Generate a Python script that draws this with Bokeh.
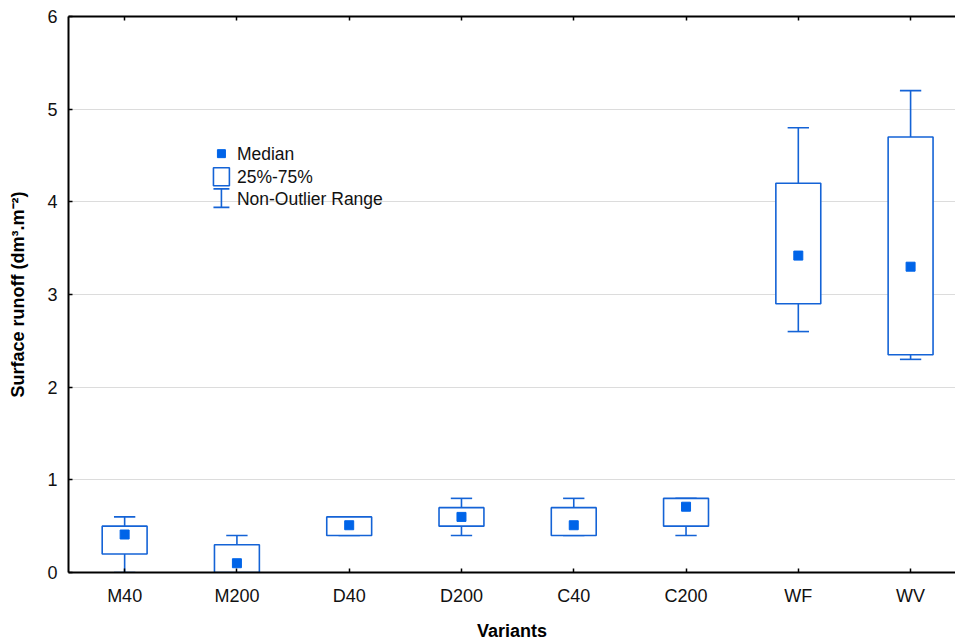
from bokeh.plotting import figure
from bokeh.models import (Range1d, FixedTicker, LinearAxis, CustomJSTickFormatter,
                          ColumnDataSource)
from bokeh.core.properties import value
from bokeh.embed import file_html
from bokeh.resources import INLINE

# ---- data ----
categories = ["M40", "M200", "D40", "D200", "C40", "C200", "WF", "WV"]
medians = [0.41, 0.10, 0.51, 0.60, 0.51, 0.71, 3.42, 3.30]
q25 = [0.20, 0.00, 0.40, 0.50, 0.40, 0.50, 2.90, 2.35]
q75 = [0.50, 0.30, 0.60, 0.70, 0.70, 0.80, 4.20, 4.70]
whisker_low = [0.00, 0.00, 0.40, 0.40, 0.40, 0.40, 2.60, 2.30]
whisker_high = [0.60, 0.40, 0.60, 0.80, 0.80, 0.80, 4.80, 5.20]
y_ticks = [0, 1, 2, 3, 4, 5, 6]
legend_labels = ["Median", "25%-75%", "Non-Outlier Range"]

# ---- style ----
FONT = "Liberation Sans"
LINE = "#1463d6"
MARK = "#0064e8"
BOX_W = 0.40
CAP_W = 0.19

xc = [i + 0.5 for i in range(len(categories))]
src = ColumnDataSource(dict(
    x=xc, med=medians, q1=q25, q3=q75, lo=whisker_low, hi=whisker_high,
    left=[v - BOX_W / 2 for v in xc], right=[v + BOX_W / 2 for v in xc],
    cl=[v - CAP_W / 2 for v in xc], cr=[v + CAP_W / 2 for v in xc],
))

p = figure(width=955, height=644, output_backend="svg", toolbar_location=None,
           x_range=Range1d(0, 7.9), y_range=Range1d(0, 6),
           min_border_left=68, min_border_right=0, min_border_top=16,
           min_border_bottom=72, x_axis_location="below")
p.outline_line_color = None
p.background_fill_color = "white"
p.border_fill_color = "white"

# grid
p.xgrid.visible = False
p.ygrid.ticker = FixedTicker(ticks=[1, 2, 3, 4, 5])
p.ygrid.grid_line_color = "#dcdcdc"
p.ygrid.grid_line_width = 1

# whiskers
p.segment(x0="x", y0="lo", x1="x", y1="q1", source=src, line_color=LINE, line_width=1.6)
p.segment(x0="x", y0="q3", x1="x", y1="hi", source=src, line_color=LINE, line_width=1.6)
p.segment(x0="cl", y0="lo", x1="cr", y1="lo", source=src, line_color=LINE, line_width=1.6)
p.segment(x0="cl", y0="hi", x1="cr", y1="hi", source=src, line_color=LINE, line_width=1.6)
# boxes
p.quad(left="left", right="right", bottom="q1", top="q3", source=src,
       fill_color="white", line_color=LINE, line_width=1.6)
# medians
p.scatter(x="x", y="med", source=src, marker="square", size=9,
          fill_color=MARK, line_color=MARK)

# ---- legend (drawn) ----
lx, ltx = 1.362, 1.50
ly = [4.52, 4.27, 4.03]
p.scatter(x=[lx], y=[ly[0]], marker="square", size=8, fill_color=MARK, line_color=MARK)
p.quad(left=[lx - 0.071], right=[lx + 0.071], bottom=[ly[1] - 0.097], top=[ly[1] + 0.097],
       fill_color="white", line_color=LINE, line_width=1.6)
p.segment(x0=[lx, lx - 0.071, lx - 0.071], y0=[3.94, 3.94, 4.14],
          x1=[lx, lx + 0.071, lx + 0.071], y1=[4.14, 3.94, 4.14],
          line_color=LINE, line_width=1.6)
p.text(x=[ltx] * 3, y=ly, text=legend_labels, text_font=value(FONT),
       text_font_size="17.5px", text_baseline="middle", text_color="#111111")

# ---- axes ----
fmt = CustomJSTickFormatter(args=dict(cats=categories),
                            code="return cats[Math.floor(tick)] || '';")
xa = p.xaxis[0]
xa.ticker = FixedTicker(ticks=xc)
xa.formatter = fmt
xa.axis_label = "Variants"
ya = p.yaxis[0]
ya.ticker = FixedTicker(ticks=y_ticks)
ya.axis_label = "Surface runoff (dm³.m⁻²)"

for ax in (xa, ya):
    ax.axis_line_color = "black"
    ax.axis_line_width = 2
    ax.major_tick_line_color = "black"
    ax.major_tick_line_width = 1.5
    ax.major_tick_in = 4
    ax.major_tick_out = 0
    ax.minor_tick_line_color = None
    ax.major_label_text_font = FONT
    ax.major_label_text_font_size = "18px"
    ax.major_label_text_color = "#111111"
    ax.axis_label_text_font = FONT
    ax.axis_label_text_font_size = "18px"
    ax.axis_label_text_font_style = "bold"
    ax.axis_label_text_color = "black"

xa.major_label_standoff = 13
xa.axis_label_standoff = 12
ya.major_label_standoff = 11
ya.axis_label_standoff = 16

# top frame line with inward ticks, no labels
top = LinearAxis(ticker=FixedTicker(ticks=xc),
                 formatter=CustomJSTickFormatter(code="return '';"))
top.axis_line_color = "black"
top.axis_line_width = 2
top.major_tick_line_color = "black"
top.major_tick_line_width = 1.5
top.major_tick_in = 4
top.major_tick_out = 0
top.minor_tick_line_color = None
top.major_label_standoff = 0
top.major_label_text_font_size = "1px"
p.add_layout(top, "above")

open("out.html", "w").write(file_html(p, INLINE))
